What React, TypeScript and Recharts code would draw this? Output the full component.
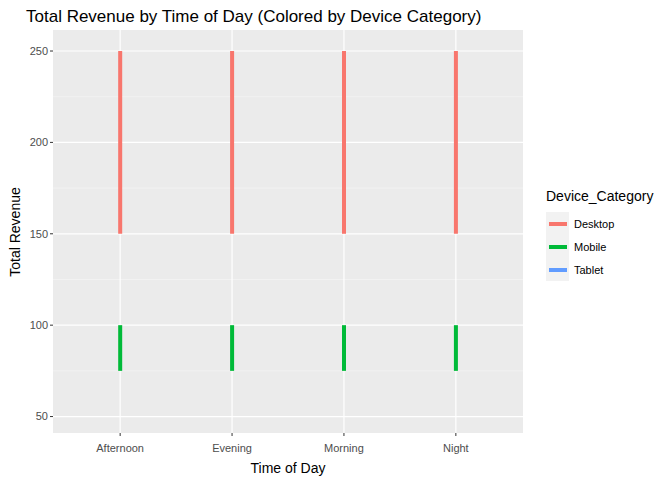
import { ComposedChart, Bar, XAxis, YAxis, CartesianGrid } from "recharts";

const times = ["Afternoon", "Evening", "Morning", "Night"];
const desktopRange = [[150, 250], [150, 250], [150, 250], [150, 250]];
const mobileRange = [[75, 100], [75, 100], [75, 100], [75, 100]];
const yTicks = [50, 100, 150, 200, 250];
const yMinor = [75, 125, 175, 225];

const legendItems = [
  { name: "Desktop", color: "#F8766D" },
  { name: "Mobile", color: "#00BA38" },
  { name: "Tablet", color: "#619CFF" },
];

const data = times.map((t, i) => ({
  x: i + 1,
  name: t,
  desktop: desktopRange[i],
  mobile: mobileRange[i],
}));

const App = () => {
  return (
    <div style={{ position: "absolute", left: 0, top: 0, width: 672, height: 480, fontFamily: "Arial, 'Liberation Sans', sans-serif", background: "#fff" }}>
      <div style={{ position: "absolute", left: 26, top: 7, fontSize: 17, color: "#000" }}>
        Total Revenue by Time of Day (Colored by Device Category)
      </div>
      <ComposedChart width={672} height={480} data={data} margin={{ top: 30, right: 149, left: 0, bottom: 0 }} barGap={-4}>
        <CartesianGrid fill="#EBEBEB" stroke="#F7F7F7" strokeWidth={0.6} horizontalValues={yMinor} vertical={false} />
        <CartesianGrid fill="none" stroke="#FFFFFF" strokeWidth={1.2} horizontalValues={yTicks} verticalValues={[1, 2, 3, 4]} />
        <XAxis
          type="number"
          dataKey="x"
          domain={[0.4, 4.6]}
          ticks={[1, 2, 3, 4]}
          tickFormatter={(v) => times[v - 1]}
          height={47}
          axisLine={false}
          tickLine={{ stroke: "#333" }}
          tickSize={3}
          tick={{ fill: "#4D4D4D", fontSize: 11, dy: 6 }}
          label={{ value: "Time of Day", position: "insideBottom", offset: 7, fill: "#000", fontSize: 14 }}
        />
        <YAxis
          type="number"
          domain={[41, 261.5]}
          ticks={yTicks}
          width={53}
          axisLine={false}
          tickLine={{ stroke: "#333" }}
          tickSize={3}
          tick={{ fill: "#4D4D4D", fontSize: 11 }}
          allowDataOverflow
        />
        <Bar dataKey="desktop" fill="#F8766D" barSize={4} isAnimationActive={false} />
        <Bar dataKey="mobile" fill="#00BA38" barSize={4} isAnimationActive={false} />
      </ComposedChart>
      <div style={{ position: "absolute", left: 15, top: 232, fontSize: 14, color: "#000", transform: "translate(-50%, -50%) rotate(-90deg)", whiteSpace: "nowrap" }}>
        Total Revenue
      </div>
      <div style={{ position: "absolute", left: 546, top: 188, fontSize: 14, color: "#000" }}>Device_Category</div>
      {legendItems.map((it, i) => (
        <div key={it.name} style={{ position: "absolute", left: 546, top: 212 + i * 23, display: "flex", alignItems: "center" }}>
          <div style={{ width: 23, height: 23, background: "#F2F2F2", display: "flex", alignItems: "center", justifyContent: "center" }}>
            <div style={{ width: 18, height: 4, background: it.color }} />
          </div>
          <span style={{ marginLeft: 5, fontSize: 11, color: "#000" }}>{it.name}</span>
        </div>
      ))}
    </div>
  );
};

export default App;
